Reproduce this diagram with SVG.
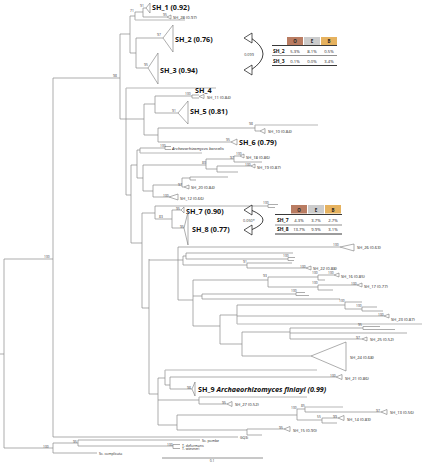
<svg xmlns="http://www.w3.org/2000/svg" width="426" height="462" viewBox="0 0 426 462">
<style>
.br{fill:none;stroke:#8a8a8a;stroke-width:0.7}
.lt{fill:none;stroke:#b8b8b8;stroke-width:1.2}
.tri{fill:#fff;stroke:#777;stroke-width:0.6}
.bs{font-family:"Open Sans",sans-serif;font-size:3.3px;fill:#333}
.sm{font-family:"Open Sans",sans-serif;font-size:4.2px;fill:#222}
.it{font-style:italic}
.big{font-family:"Open Sans",sans-serif;font-size:7.2px;font-weight:700;fill:#111}
.tv{font-family:"Open Sans",sans-serif;font-size:4.2px;fill:#222;text-anchor:middle}
.tn{font-family:"Open Sans",sans-serif;font-size:5px;font-weight:700;fill:#111}
.th{font-family:"Open Sans",sans-serif;font-size:4.5px;font-weight:700;fill:#222;text-anchor:middle}
.rule{stroke:#222;stroke-width:0.9}
.rule2{stroke:#444;stroke-width:0.6}
.arr{fill:#fff;stroke:#111;stroke-width:0.7}
.arc{fill:none;stroke:#111;stroke-width:0.8}
</style>
<rect width="426" height="462" fill="#fff"/>
<g id="connectors">
<path class="br" d="M0,354H4M4,259V448M4,259H53M53,78V437M53,78H120M120,34V119"/>
<path class="br" d="M120,34H130M130,16V53M130,16H135M135,12V20M135,12H143M143,8V17M143,8H146M143,17H167M130,53H136M136,38V68M136,38H163M136,68H148"/>
<path class="lt" d="M135,20H185"/>
<path class="br" d="M120,119H126M126,88V195M126,119H144M144,104V135M144,104H155M155,96V113M155,96H192M192,95V98M192,95H199M192,98H199M155,113H178M144,135H158M158,128V142M158,128H255M255,125V131M255,131H260M158,142H231"/>
<path class="lt" d="M126,88H216M255,125H318"/>
<path class="br" d="M126,195H131M131,165V243M131,165H137M137,150V178M137,150H140M140,148V153M140,148H165M165,146.5V149.5M165,146.5H171M165,149.5H171M137,178H143M143,165V191M143,165H206M206,159V169M206,159H234M234,156V162M234,156H240M234,162H262M206,169H217M217,166V172M217,166H251M217,172H238M143,191H153M153,185V197M153,185H182M182,178V187M182,178H190M190,177V180M190,177H228M190,180H196M182,187H184M153,197H169"/>
<path class="lt" d="M140,153H202"/>
<path class="br" d="M131,243H142M142,213V308M142,213H155M155,206V219M155,206H268M268,204.5V207.5M268,204.5H278M268,207.5H275M155,219H172M172,210V228M172,210H181M172,228H184"/>
<path class="br" d="M142,308H149M149,259V394M149,260H178M178,247V300M178,247H340M178,260H183M183,256V265M183,256H186M186,253V259M186,253H293M186,259H288M288,257.5V260.5M288,257.5H295M288,260.5H294M183,265H247M247,263V268M247,263H292M247,268H306"/>
<path class="br" d="M178,300H193M193,280V326M193,280H268M268,277V287M268,277H318M318,275V280M318,275H334M318,280H325M268,287H318M318,285V290M318,285H357M318,290H333M193,296H202M202,294V299M202,294H296M296,292.5V295.5M296,292.5H305M296,295.5H309M202,299H340"/>
<path class="br" d="M193,326H220M220,315V344M220,315H237M237,305V324M237,305H345M345,302V309M345,302H362M345,309H362M362,307V311M362,307H377M362,311H383M237,316H384M220,344H242M242,332V356M242,332H290M290,328V339M290,328H363M363,326.5V329.5M363,326.5H380M363,329.5H395M290,333H407M290,339H362M242,356H311"/>
<path class="lt" d="M237,324H422"/>
<path class="br" d="M149,394H158M158,378V425M158,378H165M165,370V385M165,385H170M170,377V389M170,377H336M170,389H192M158,400H199M199,397V404M199,404H227M158,425H177M177,415V430M177,415H297M297,409V420M297,409H305M305,407V412M305,412H381M297,420H322M322,418V423M322,418H338M322,423H337M177,430H247M247,429V435M247,429H284M247,435H262"/>
<path class="lt" d="M165,370H317M199,397H307M305,407H343"/>
<path class="br" d="M53,437H238M4,448H53M53,443V453M53,443H78M78,440V446M78,440H200M78,446H173M173,444.5V448.5M173,444.5H180M173,448.5H180M53,453H97"/>
<path d="M162,458H263" stroke="#777" stroke-width="0.8"/>
</g>
<g id="sh1"><polygon class="tri" points="146,8 150,3 150,13"/><text class="big" x="152" y="10">SH_1 (0.92)</text></g>
<g id="sh28"><polygon class="tri" points="167,17 171,15 171,19"/><text class="sm" x="173" y="18.5">SH_28 (0.97)</text></g>
<g id="sh2"><polygon class="tri" points="163,38 173,25 173,52"/><text class="big" x="175" y="41.5">SH_2 (0.76)</text></g>
<g id="sh3"><polygon class="tri" points="148,68 158,53 158,84"/><text class="big" x="160" y="73">SH_3 (0.94)</text></g>
<g id="sh4"><text class="big" x="195" y="93">SH_4</text></g>
<g id="sh11"><polygon class="tri" points="199,96.5 204,94.5 204,98.5"/><text class="sm" x="207" y="98.5">SH_11 (0.84)</text></g>
<g id="sh5"><polygon class="tri" points="178,113 188,101 188,124"/><text class="big" x="190" y="114">SH_5 (0.81)</text></g>
<g id="sh10"><polygon class="tri" points="260,131 265,128.5 265,133.5"/><text class="sm" x="268" y="133">SH_10 (0.84)</text></g>
<g id="sh6"><polygon class="tri" points="231,142 237,139 237,145"/><text class="big" x="239" y="145">SH_6 (0.79)</text></g>
<g id="borealis"><text class="sm it" x="172" y="150">Archaeorhizomyces borealis</text></g>
<g id="sh18"><polygon class="tri" points="240,156 244,154 244,158"/><text class="sm" x="246" y="159">SH_18 (0.86)</text></g>
<g id="sh19"><polygon class="tri" points="251,166 255,164 255,168"/><text class="sm" x="257" y="168.5">SH_19 (0.87)</text></g>
<g id="sh20"><polygon class="tri" points="184,187 189,185 189,189"/><text class="sm" x="191" y="189">SH_20 (0.84)</text></g>
<g id="sh12"><polygon class="tri" points="169,197 178,194 178,200"/><text class="sm" x="180" y="199.5">SH_12 (0.66)</text></g>
<g id="sh7"><polygon class="tri" points="181,210 184,207 184,213"/><text class="big" x="186" y="214">SH_7 (0.90)</text></g>
<g id="sh8"><polygon class="tri" points="184,228 188,212 188,245"/><text class="big" x="192" y="232">SH_8 (0.77)</text></g>
<g id="sh26"><polygon class="tri" points="340,247 354,244 354,251"/><text class="sm" x="357" y="249">SH_26 (0.63)</text></g>
<g id="sh22"><polygon class="tri" points="306,268 311,266 311,270"/><text class="sm" x="313" y="270">SH_22 (0.88)</text></g>
<g id="sh16"><polygon class="tri" points="334,275 339,273 339,277"/><text class="sm" x="341" y="278">SH_16 (0.85)</text></g>
<g id="sh17"><polygon class="tri" points="357,285 362,283 362,287"/><text class="sm" x="364" y="288">SH_17 (0.77)</text></g>
<g id="sh23"><polygon class="tri" points="384,316 389,314 389,318"/><text class="sm" x="391" y="321">SH_23 (0.87)</text></g>
<g id="sh25"><polygon class="tri" points="362,339 367,337 367,341"/><text class="sm" x="370" y="341">SH_25 (0.52)</text></g>
<g id="sh24"><polygon class="tri" points="311,356 346,342 346,371"/><text class="sm" x="350" y="359">SH_24 (0.68)</text></g>
<g id="sh21"><polygon class="tri" points="336,377 342,374.5 342,379.5"/><text class="sm" x="345" y="379.5">SH_21 (0.86)</text></g>
<g id="sh9"><polygon class="tri" points="192,389 195,382 195,396"/><text class="big" x="198" y="392">SH_9 <tspan font-style="italic">Archaeorhizomyces finlayi (0.99)</tspan></text></g>
<g id="sh27"><polygon class="tri" points="227,404 232,401.5 232,406.5"/><text class="sm" x="235" y="406">SH_27 (0.52)</text></g>
<g id="sh13"><polygon class="tri" points="381,412 387,409.5 387,414.5"/><text class="sm" x="390" y="414">SH_13 (0.56)</text></g>
<g id="sh14"><polygon class="tri" points="338,418 344,415.5 344,420.5"/><text class="sm" x="347" y="420.5">SH_14 (0.83)</text></g>
<g id="sh15"><polygon class="tri" points="284,429 290,426.5 290,431.5"/><text class="sm" x="293" y="432">SH_15 (0.90)</text></g>
<g id="outgroup">
<text class="sm" x="240" y="439" style="font-size:3.5px">GQ3i</text>
<text class="sm" x="202" y="441.5" style="font-size:3.5px">Sc. pombe</text>
<text class="sm" x="182" y="446.5" style="font-size:3.5px">T. deformans</text>
<text class="sm" x="182" y="450" style="font-size:3.5px">T. wiesneri</text>
<text class="sm" x="99" y="454.5" style="font-size:3.5px">Sc. complicata</text>
<text class="bs" x="212" y="462" text-anchor="middle">0.1</text>
</g>
<g id="support">
<text class="bs" x="140" y="6.5">91</text>
<text class="bs" x="163" y="16">95</text>
<text class="bs" x="130" y="11.5">71</text>
<text class="bs" x="157" y="36">97</text>
<text class="bs" x="144" y="66">95</text>
<text class="bs" x="113" y="76.5">98</text>
<text class="bs" x="185" y="95">100</text>
<text class="bs" x="172" y="112">91</text>
<text class="bs" x="249" y="124.5">98</text>
<text class="bs" x="226" y="141">95</text>
<text class="bs" x="160" y="146.5">100</text>
<text class="bs" x="202" y="163.5">80</text>
<text class="bs" x="230" y="159">97</text>
<text class="bs" x="236" y="154.5">100</text>
<text class="bs" x="245" y="165.5">100</text>
<text class="bs" x="178" y="185.5">97</text>
<text class="bs" x="163" y="196.5">100</text>
<text class="bs" x="263" y="204">100</text>
<text class="bs" x="176" y="209.5">95</text>
<text class="bs" x="159" y="218">83</text>
<text class="bs" x="180" y="227.5">95</text>
<text class="bs" x="44" y="257.5">100</text>
<text class="bs" x="333" y="246">100</text>
<text class="bs" x="283" y="257">100</text>
<text class="bs" x="243" y="262.5">91</text>
<text class="bs" x="300" y="267.5">100</text>
<text class="bs" x="263" y="276.5">93</text>
<text class="bs" x="312" y="274">100</text>
<text class="bs" x="328" y="274">100</text>
<text class="bs" x="312" y="284">100</text>
<text class="bs" x="351" y="284.5">100</text>
<text class="bs" x="291" y="291.5">100</text>
<text class="bs" x="339" y="301.5">100</text>
<text class="bs" x="356" y="306.5">100</text>
<text class="bs" x="378" y="315.5">100</text>
<text class="bs" x="358" y="326">95</text>
<text class="bs" x="356" y="338.5">97</text>
<text class="bs" x="330" y="376.5">100</text>
<text class="bs" x="187" y="388.5">98</text>
<text class="bs" x="222" y="403.5">95</text>
<text class="bs" x="291" y="408.5">100</text>
<text class="bs" x="301" y="406.5">85</text>
<text class="bs" x="376" y="411.5">97</text>
<text class="bs" x="333" y="417.5">99</text>
<text class="bs" x="317" y="417.5">55</text>
<text class="bs" x="279" y="428.5">95</text>
<text class="bs" x="73" y="442.5">95</text>
<text class="bs" x="43" y="447.5">100</text>
<text class="bs" x="167" y="446">100</text>
</g>
<g id="arrow1">
<path class="arc" d="M251,38Q275,54 251,70"/>
<polygon class="arr" points="244,38 252,33 252,43"/>
<polygon class="arr" points="244,70 252,65 252,75"/>
<text class="bs" x="249" y="56" text-anchor="middle" style="font-size:3.8px">0.099</text>
</g>
<g id="table1">
<rect x="287" y="37" width="16" height="8" fill="#b97c62"/>
<rect x="304" y="37" width="16" height="8" fill="#cccccc"/>
<rect x="321" y="37" width="16" height="8" fill="#e6b25f"/>
<text class="th" x="295" y="43">O</text><text class="th" x="312" y="43">E</text><text class="th" x="329" y="43">B</text>
<line class="rule" x1="272" y1="45.5" x2="337" y2="45.5"/>
<text class="tn" x="273" y="53">SH_2</text><text class="tv" x="295" y="53">5.3%</text><text class="tv" x="312" y="53">8.1%</text><text class="tv" x="329" y="53">0.5%</text>
<line class="rule2" x1="272" y1="55.5" x2="337" y2="55.5"/>
<text class="tn" x="273" y="62.5">SH_3</text><text class="tv" x="295" y="62.5">0.1%</text><text class="tv" x="312" y="62.5">0.0%</text><text class="tv" x="329" y="62.5">3.4%</text>
<line class="rule" x1="272" y1="65.5" x2="337" y2="65.5"/>
</g>
<g id="arrow2">
<path class="arc" d="M251,210Q275,220 251,230"/>
<polygon class="arr" points="244,210 252,205 252,215"/>
<polygon class="arr" points="244,230 252,225 252,235"/>
<text class="bs" x="249" y="222" text-anchor="middle" style="font-size:3.8px">0.050*</text>
</g>
<g id="table2">
<rect x="291" y="205" width="16" height="8.5" fill="#b97c62"/>
<rect x="308" y="205" width="16" height="8.5" fill="#cccccc"/>
<rect x="325" y="205" width="16" height="8.5" fill="#e6b25f"/>
<text class="th" x="299" y="211.5">O</text><text class="th" x="316" y="211.5">E</text><text class="th" x="333" y="211.5">B</text>
<line class="rule" x1="275" y1="214.5" x2="342" y2="214.5"/>
<text class="tn" x="277" y="222">SH_7</text><text class="tv" x="299" y="222">4.3%</text><text class="tv" x="316" y="222">3.7%</text><text class="tv" x="333" y="222">2.7%</text>
<line class="rule2" x1="275" y1="225" x2="342" y2="225"/>
<text class="tn" x="277" y="231">SH_8</text><text class="tv" x="299" y="231">13.7%</text><text class="tv" x="316" y="231">9.9%</text><text class="tv" x="333" y="231">3.1%</text>
<line class="rule" x1="275" y1="234" x2="342" y2="234"/>
</g>
</svg>
